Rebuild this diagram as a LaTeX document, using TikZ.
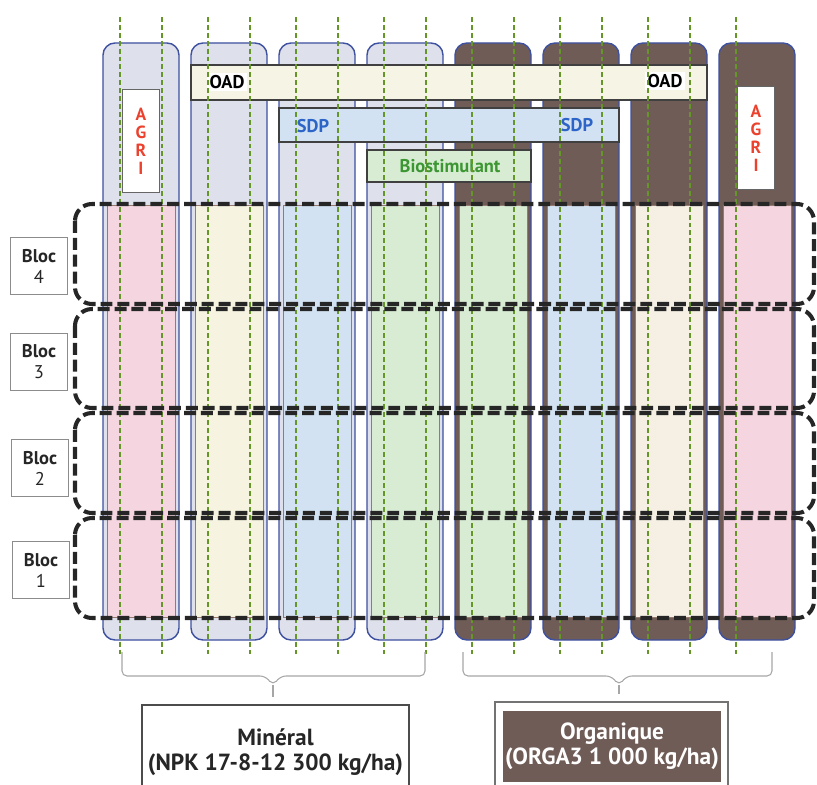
\documentclass[tikz,border=0pt]{standalone}
\usepackage{fontspec}
\setmainfont{PT Sans}
\usetikzlibrary{positioning, calc}
\definecolor{colbord}{RGB}{62,80,160}
\definecolor{minfill}{RGB}{222,224,236}
\definecolor{orgfill}{RGB}{112,92,86}
\definecolor{parcbord}{RGB}{150,122,112}
\definecolor{rose}{RGB}{245,214,224}
\definecolor{jaune}{RGB}{246,244,224}
\definecolor{creme}{RGB}{246,240,228}
\definecolor{bleu}{RGB}{210,226,242}
\definecolor{vert}{RGB}{216,236,212}
\definecolor{oadfill}{RGB}{246,244,228}
\definecolor{sdptext}{RGB}{45,100,200}
\definecolor{biotext}{RGB}{60,150,50}
\definecolor{agritext}{RGB}{235,65,45}
\definecolor{guidevert}{RGB}{100,150,40}

\tikzset{
  colonne/.style={draw=colbord, line width=0.8pt, rounded corners=0.24cm},
  parcelle/.style={draw=parcbord, line width=0.5pt},
  barre/.style={draw=black!75, line width=0.6pt},
  guide/.style={draw=guidevert, line width=1.3pt, dash pattern=on 2.8pt off 1.7pt},
  bloc/.style={draw=black!85, line width=2.3pt, dash pattern=on 6.8pt off 2.8pt, rounded corners=0.34cm},
  bloclab/.style={draw=black!45, fill=white, line width=0.6pt, minimum width=1.14cm, minimum height=1.14cm,
    align=center, font=\fontsize{10.5}{12}\selectfont, text=black!85},
  agri/.style={draw=black!60, fill=white, line width=0.5pt, minimum width=0.74cm, minimum height=2.06cm,
    align=center, text=agritext, font=\fontsize{10}{10.2}\selectfont\bfseries},
  barlab/.style={font=\fontsize{10.5}{11}\selectfont\bfseries, inner sep=1.5pt},
  accolade/.style={draw=black!35, line width=0.6pt, rounded corners=0.1cm}
}

\begin{document}
\begin{tikzpicture}[x=0.02cm, y=-0.02cm]
\useasboundingbox (0,0) rectangle (817,784);

% colonnes et parcelles
\foreach \i in {0,...,3}
  \draw[colonne, fill=minfill] ({103+88*\i},43) rectangle ++(76,597);
\foreach \i in {4,...,7}
  \draw[colonne, fill=orgfill] ({103+88*\i},43) rectangle ++(76,597);
\foreach \i/\c in {0/rose,1/jaune,2/bleu,3/vert,4/vert,5/bleu,6/creme,7/rose}
  \draw[parcelle, fill=\c] ({107+88*\i},205) rectangle ++(68,412);

% barres OAD, SDP, Biostimulant
\draw[barre, fill=oadfill] (191,65) rectangle (707,100);
\draw[barre, fill=bleu] (279,108) rectangle (619,142);
\draw[barre, fill=vert] (367,150) rectangle (531,182);
\node[barlab, fill=white] (oadg) at (227,82) {OAD};
\node[barlab, fill=white] (oadd) at (665,81) {OAD};
\node[barlab, text=sdptext] (sdpg) at (313,126) {SDP};
\node[barlab, text=sdptext] (sdpd) at (577,125) {SDP};
\node[barlab, text=biotext] (bio) at (450,166) {Biostimulant};
\node[agri] (agrig) at (141,141) {A\\G\\R\\I};
\node[agri] (agrid) at (756,138) {A\\G\\R\\I};

% lignes de passage
\foreach \i in {0,...,7}
  \draw[guide] ({120+88*\i},17) -- ({120+88*\i},656);
\foreach \i in {0,...,6}
  \draw[guide] ({162+88*\i},17) -- ({162+88*\i},656);

% blocs
\draw[bloc] (75,204) rectangle (814,304);
\draw[bloc] (75,309) rectangle (814,408);
\draw[bloc] (75,413) rectangle (814,513);
\draw[bloc] (75,518) rectangle (814,618);
\node[bloclab] (b4) at (39,266) {\textbf{Bloc}\\4};
\node[bloclab] (b3) at (39,362) {\textbf{Bloc}\\3};
\node[bloclab] (b2) at (40,468) {\textbf{Bloc}\\2};
\node[bloclab] (b1) at (41,570) {\textbf{Bloc}\\1};

% accolades
\coordinate (minl) at (122,652);
\coordinate (minr) at (425,652);
\coordinate (minp) at (273,685);
\coordinate (orgl) at (463,652);
\coordinate (orgr) at (772,652);
\coordinate (orgp) at (619,685);
\draw[accolade] (minl) |- ($(minp)+(-8,-9)$) -- (minp) -- ($(minp)+(8,-9)$) -| (minr);
\draw[accolade] (orgl) |- ($(orgp)+(-8,-9)$) -- (orgp) -- ($(orgp)+(8,-9)$) -| (orgr);

% legendes
\node[draw=black!70, fill=white, line width=0.8pt, minimum width=5.3cm, minimum height=1.88cm,
  align=center, font=\fontsize{13.3}{14.4}\selectfont\bfseries, text=black!85] (min) at (275.5,752)
  {Minéral\\(NPK 17-8-12 300 kg/ha)};
\node[draw=black!55, fill=white, line width=0.8pt, minimum width=4.66cm, minimum height=1.7cm] (orgcadre) at (611.5,744.5) {};
\node[fill=orgfill, minimum width=4.28cm, minimum height=1.42cm, align=center, inner sep=1pt,
  font=\fontsize{13.3}{14.4}\selectfont\bfseries, text=white] (org) at (612,746)
  {Organique\\(ORGA3 1 000 kg/ha)};
\draw[accolade, shorten >=0.14cm] (minp) -- (minp |- min.north);
\draw[accolade, shorten >=0.14cm] (orgp) -- (orgp |- orgcadre.north);
\end{tikzpicture}
\end{document}
